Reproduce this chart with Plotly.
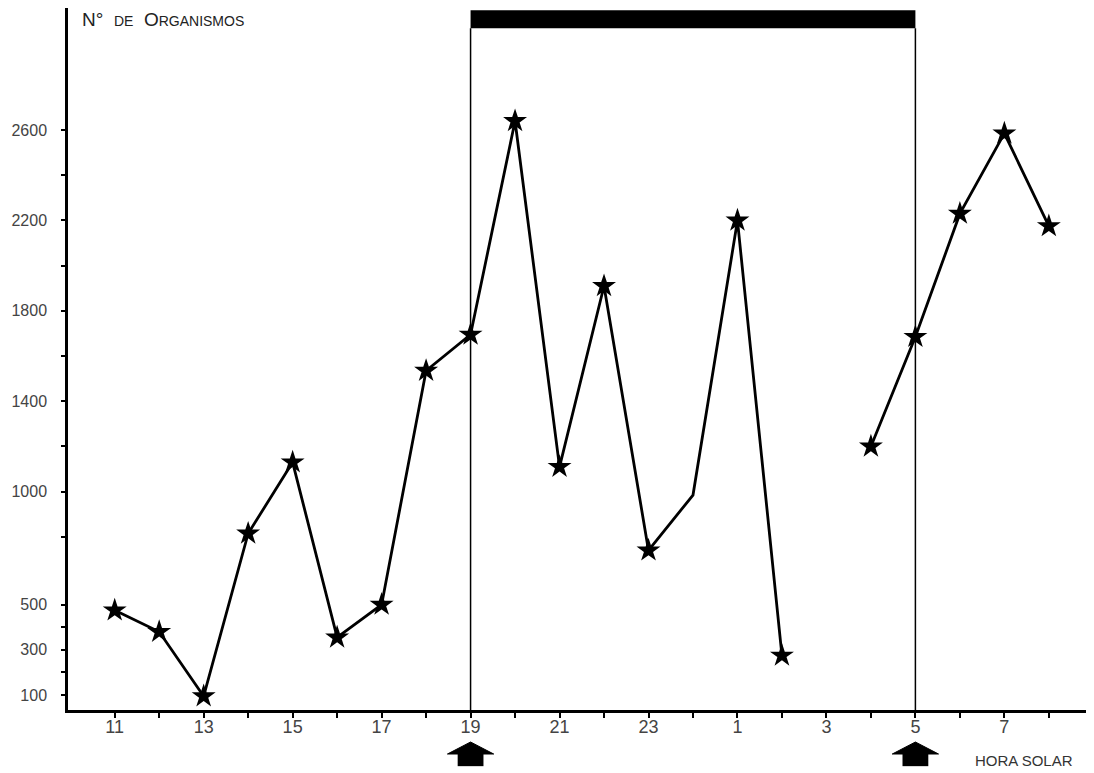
import plotly.graph_objects as go

# ---- data ----
# hours on a continuous scale: 25 = 1 h, 26 = 2 h ... 32 = 8 h of the next day
horas = [11, 12, 13, 14, 15, 16, 17, 18, 19, 20, 21, 22, 23, 24, 25, 26, 27, 28, 29, 30, 31, 32]
organismos = [475, 380, 95, 815, 1130, 355, 500, 1535, 1695, 2640, 1110, 1910, 740, 985,
              2200, 275, None, 1200, 1685, 2230, 2585, 2175]
# whether the point carries a star marker (the 24 h vertex has none)
muestra = [True, True, True, True, True, True, True, True, True, True, True, True, True, False,
           True, True, False, True, True, True, True, True]

x_tickvals = list(range(11, 33))
x_ticktext = ["11", "", "13", "", "15", "", "17", "", "19", "", "21", "", "23", "",
              "1", "", "3", "", "5", "", "7", ""]

y_tickvals = [100, 200, 300, 400, 500, 800, 1000, 1200, 1400, 1600, 1800, 2000, 2200, 2400, 2600]
y_ticktext = ["100", "", "300", "", "500", "", "1000", "", "1400", "", "1800", "", "2200", "", "2600"]

noche_inicio = 19   # sunset
noche_fin = 29      # sunrise (5 h)

FONT = "Liberation Sans Narrow, Liberation Sans, Arial, sans-serif"

fig = go.Figure()

fig.add_trace(go.Scatter(
    x=horas, y=organismos, mode="lines",
    line=dict(color="black", width=2.8),
    connectgaps=False, hoverinfo="skip", showlegend=False,
))

fig.add_trace(go.Scatter(
    x=[h for h, m, v in zip(horas, muestra, organismos) if m and v is not None],
    y=[v for h, m, v in zip(horas, muestra, organismos) if m and v is not None],
    mode="markers",
    marker=dict(symbol="star", size=18, color="black", line=dict(width=0)),
    showlegend=False,
))

Y_MIN, Y_MAX = 34, 3140
BAR_LO, BAR_HI = 3050, 3130

shapes = []
# night period: vertical lines and the black bar at the top
for xv in (noche_inicio, noche_fin):
    shapes.append(dict(type="line", xref="x", yref="y", x0=xv, x1=xv, y0=Y_MIN, y1=BAR_LO,
                       line=dict(color="black", width=1.5)))
shapes.append(dict(type="rect", xref="x", yref="y", x0=noche_inicio, x1=noche_fin,
                   y0=BAR_LO, y1=BAR_HI, fillcolor="black", line=dict(width=0)))

# up arrows below the axis at sunset and sunrise
for xv in (noche_inicio, noche_fin):
    tri = (f"M {xv - 0.52} -0.0627 L {xv} -0.0456 L {xv + 0.52} -0.0627 Z")
    shapes.append(dict(type="path", xref="x", yref="paper", path=tri,
                       fillcolor="black", line=dict(color="black", width=1)))
    shapes.append(dict(type="rect", xref="x", yref="paper", x0=xv - 0.29, x1=xv + 0.29,
                       y0=-0.0800, y1=-0.0620, fillcolor="black", line=dict(width=0)))

# the page body keeps an 8 px margin, so the figure is 8 px smaller than the window
fig.update_layout(
    width=1086, height=765,
    margin=dict(l=60, r=2, t=0, b=63),
    paper_bgcolor="white", plot_bgcolor="white",
    font=dict(family=FONT, color="#333", size=18),
    shapes=shapes,
    showlegend=False,
    annotations=[
        dict(text='N°  <span style="font-size:14px">DE</span>  O<span style="font-size:14px">RGANISMOS</span>',
             xref="paper", yref="paper", x=0.012, y=0.983, xanchor="left", yanchor="middle",
             showarrow=False, font=dict(family=FONT, size=19, color="#222")),
        dict(text="HORA SOLAR", xref="paper", yref="paper", x=0.884, y=-0.072,
             xanchor="left", yanchor="middle", showarrow=False,
             font=dict(family=FONT, size=15, color="#333")),
    ],
)

fig.update_xaxes(
    range=[9.95, 32.97], showgrid=False, zeroline=False, automargin=False,
    showline=True, linecolor="black", linewidth=2.5,
    ticks="outside", ticklen=5, tickwidth=2, tickcolor="black",
    tickvals=x_tickvals, ticktext=x_ticktext, ticklabelstandoff=-6,
    tickfont=dict(family=FONT, size=18, color="#444"),
)
fig.update_yaxes(
    range=[Y_MIN, Y_MAX], showgrid=False, zeroline=False, automargin=False,
    showline=True, linecolor="black", linewidth=2.5,
    ticks="outside", ticklen=4, tickwidth=2, tickcolor="black",
    tickvals=y_tickvals, ticktext=y_ticktext, ticklabelstandoff=11,
    tickfont=dict(family=FONT, size=16, color="#444"),
)

fig.write_html("out.html")
